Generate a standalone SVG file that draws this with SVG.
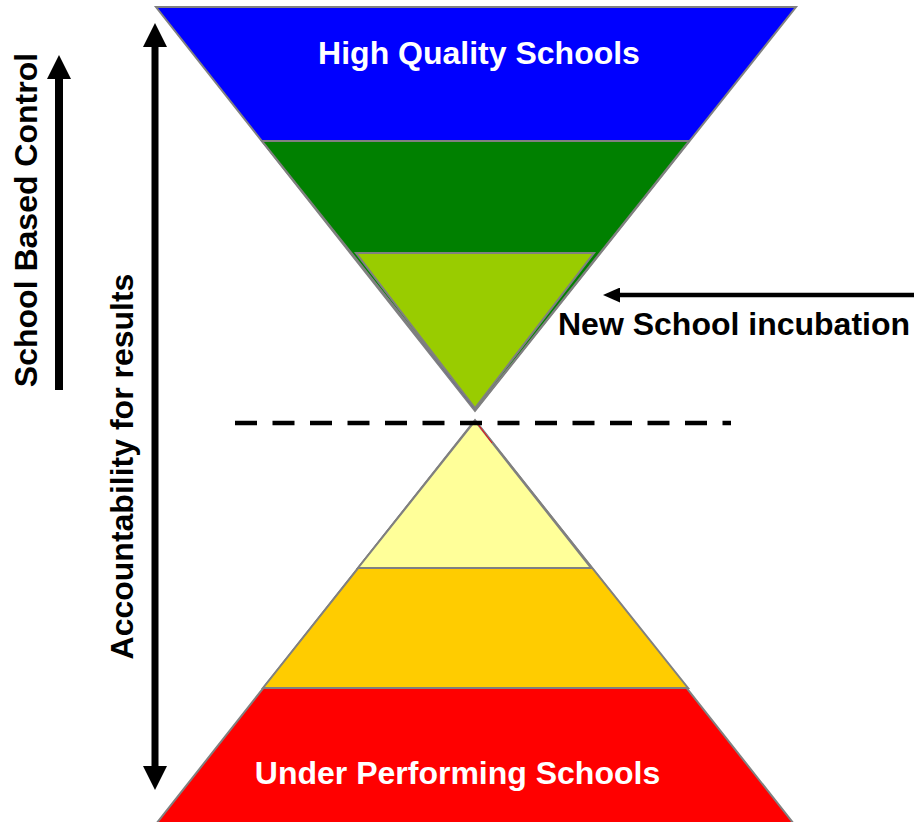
<svg xmlns="http://www.w3.org/2000/svg" width="914" height="822" viewBox="0 0 914 822">
<style>
.band{stroke:#808080;stroke-width:2;stroke-linejoin:miter}
.lbl{font-family:"Liberation Sans",Arial,sans-serif;font-weight:bold;font-size:32px}
.w{fill:#ffffff}
.k{fill:#000000}
.shaft{stroke:#000;fill:none}
</style>
<defs>
<marker id="bigHead" markerUnits="userSpaceOnUse" viewBox="0 0 24 24" refX="0" refY="12" markerWidth="24" markerHeight="24" orient="auto-start-reverse">
<path d="M0,0 L24,12 L0,24 Z" fill="#000"/>
</marker>
<marker id="smallHead" markerUnits="userSpaceOnUse" viewBox="0 0 17 15" refX="0" refY="7.5" markerWidth="17" markerHeight="15" orient="auto">
<path d="M0,0 L17,7.5 L0,15 Z" fill="#000"/>
</marker>
</defs>
<rect x="0" y="0" width="914" height="822" fill="#ffffff"/>

<g id="top-funnel">
<g id="high-quality">
<polygon class="band" fill="#0000FF" points="156,7 796,7 475,411"/>
</g>
<g id="middle-green">
<polygon class="band" fill="#008000" points="262,141 689,141 476,409"/>
</g>
<g id="new-school">
<polygon class="band" fill="#99CC00" points="356,253 594,253 475,408"/>
</g>
<text class="lbl w" x="479" y="64" text-anchor="middle">High Quality Schools</text>
</g>

<g id="bottom-pyramid">
<g id="under-performing">
<polygon class="band" fill="#FF0000" points="475,420 794,824 156,824"/>
</g>
<g id="orange-band">
<polygon class="band" fill="#FFCC00" points="475,421 688,688 263,688"/>
</g>
<g id="yellow-band">
<polygon class="band" fill="#FFFF99" points="475,421 591,568 358,568"/>
<line x1="477" y1="423" x2="492" y2="443" stroke="#FF0000" stroke-width="1"/>
</g>
<text class="lbl w" x="457.5" y="784" text-anchor="middle">Under Performing Schools</text>
</g>

<g id="connectors">
<line id="divider" x1="235" y1="423" x2="731" y2="423" stroke="#000" stroke-width="4.5" stroke-dasharray="22 15.5"/>
<line id="accountability-arrow" class="shaft" x1="155" y1="47" x2="155" y2="766" stroke-width="7" marker-start="url(#bigHead)" marker-end="url(#bigHead)"/>
<line id="control-arrow" class="shaft" x1="59" y1="390" x2="59" y2="79" stroke-width="8" marker-end="url(#bigHead)"/>
<line id="incubation-arrow" class="shaft" x1="914" y1="295" x2="620" y2="295" stroke-width="4.5" marker-end="url(#smallHead)"/>
</g>

<g id="labels">
<text class="lbl k" transform="translate(37,220) rotate(-90)" text-anchor="middle">School Based Control</text>
<text class="lbl k" transform="translate(133,466.5) rotate(-90)" text-anchor="middle">Accountability for results</text>
<text class="lbl k" x="558" y="335">New School incubation</text>
</g>
</svg>
